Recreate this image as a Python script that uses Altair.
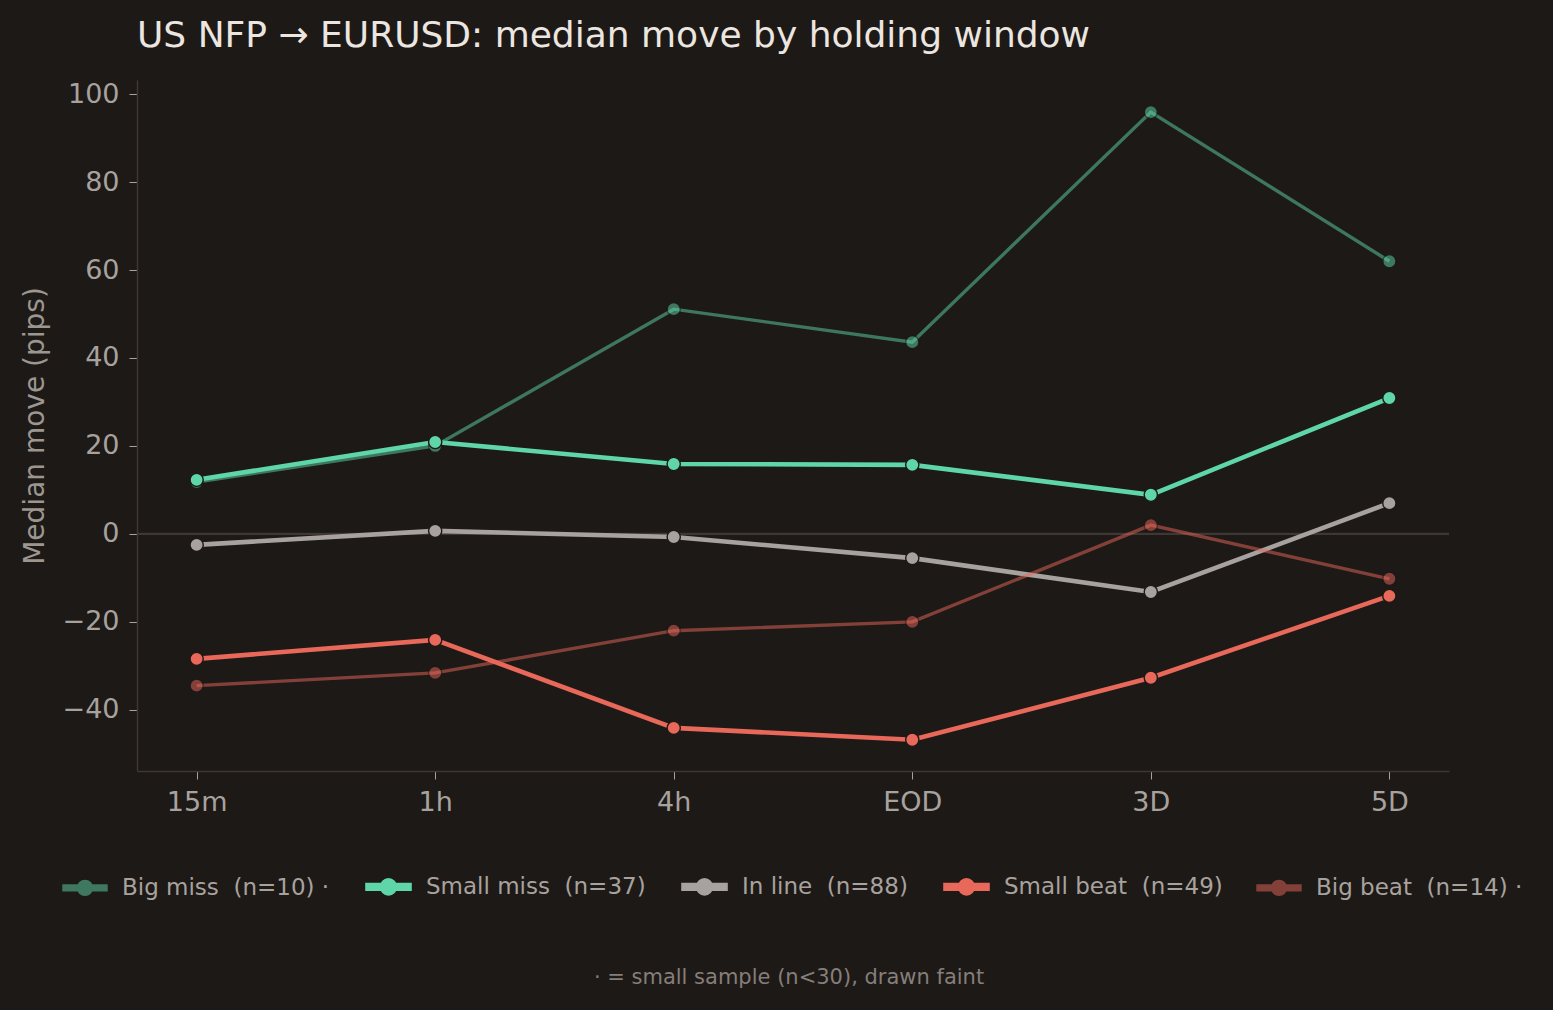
import altair as alt
import pandas as pd

# ---- data ----
windows = ["15m", "1h", "4h", "EOD", "3D", "5D"]
group_names = [
    "Big miss\u00a0 (n=10) ·",
    "Small miss\u00a0 (n=37)",
    "In line\u00a0 (n=88)",
    "Small beat\u00a0 (n=49)",
    "Big beat\u00a0 (n=14) ·",
]
big_miss = [11.8, 20.0, 51.1, 43.6, 95.9, 62.0]
small_miss = [12.3, 20.9, 15.9, 15.7, 8.9, 30.9]
in_line = [-2.5, 0.7, -0.7, -5.5, -13.2, 7.0]
small_beat = [-28.4, -24.1, -44.1, -46.8, -32.7, -14.1]
big_beat = [-34.5, -31.6, -22.0, -20.0, 2.0, -10.2]
y_ticks = [-40, -20, 0, 20, 40, 60, 80, 100]

# ---- styling ----
colors = ["#5fd6a8", "#5fd6a8", "#a8a29e", "#e8685a", "#e8685a"]
opacities = [0.5, 1.0, 1.0, 1.0, 0.5]
widths = [3.4, 4.6, 4.6, 4.6, 3.4]
BG = "#1d1917"
TXT = "#a8a29e"
AXIS = "#3e3734"
FONT = "DejaVu Sans"

series = [big_miss, small_miss, in_line, small_beat, big_beat]
rows = []
for g, vals in zip(group_names, series):
    for w, v in zip(windows, vals):
        rows.append({"window": w, "group": g, "value": v})
df = pd.DataFrame(rows)

title = "US NFP → EURUSD: median move by holding window"
note = "· = small sample (n<30), drawn faint"

sym = ("M-1,-0.09 L1,-0.09 L1,0.09 L-1,0.09 Z "
       "M-0.31,0 A0.31,0.31 0 1,1 0.31,0 A0.31,0.31 0 1,1 -0.31,0 Z")

legend = alt.Legend(
    orient="none", legendX=-75, legendY=783, direction="horizontal",
    title=None, symbolType=sym, symbolSize=1764, symbolStrokeWidth=0,
    labelFontSize=23, labelColor=TXT, labelFont=FONT, labelLimit=500,
    columnPadding=28, labelOffset=14,
)

x_enc = alt.X("window:N", sort=windows,
              scale=alt.Scale(type="point", padding=0.25),
              axis=alt.Axis(title=None, labelAngle=0, labelFontSize=27,
                            labelColor=TXT, labelPadding=10, tickSize=8,
                            tickColor=TXT, domainColor=AXIS, domainWidth=1.5,
                            grid=False, labelFont=FONT))
y_enc = alt.Y("value:Q",
              scale=alt.Scale(domain=[-53.9, 103.2], nice=False, zero=False),
              axis=alt.Axis(title="Median move (pips)", values=y_ticks,
                            labelFontSize=27, labelColor=TXT, labelPadding=10,
                            tickSize=8, tickColor=TXT, domainColor=AXIS,
                            domainWidth=1.5, grid=False, titleFontSize=28,
                            titleColor="#9c9691", titleFontWeight="normal",
                            titlePadding=13, labelFont=FONT, titleFont=FONT))
color_enc = alt.Color("group:N",
                      scale=alt.Scale(type="ordinal", domain=group_names, range=colors),
                      legend=legend)
opac_enc = alt.Opacity("group:N",
                       scale=alt.Scale(type="ordinal", domain=group_names, range=opacities),
                       legend=legend)

zero = alt.Chart(pd.DataFrame({"y": [0]})).mark_rule(
    color=AXIS, strokeWidth=2.2).encode(y="y:Q")

lines = alt.Chart(df).mark_line().encode(
    x=x_enc, y=y_enc, color=color_enc, opacity=opac_enc,
    strokeWidth=alt.StrokeWidth("group:N",
                                scale=alt.Scale(type="ordinal", domain=group_names,
                                                range=widths),
                                legend=None),
    detail="group:N",
)

points = alt.Chart(df).mark_point(filled=True, size=175, stroke=BG,
                                  strokeWidth=1.4).encode(
    x=x_enc, y=y_enc, color=color_enc, opacity=opac_enc,
)

footnote = alt.Chart(pd.DataFrame({"t": [note]})).mark_text(
    fontSize=21, color="#857e79", font=FONT, align="center",
    baseline="middle").encode(text="t:N", x=alt.value(652), y=alt.value(898))

chart = alt.layer(zero, lines, points, footnote).properties(
    width=1312, height=691,
    title=alt.Title(title, anchor="start", frame="group", fontSize=36,
                    color="#ece6e0", font=FONT, fontWeight="normal", offset=25),
    background=BG,
    padding={"left": 137, "top": 80, "right": 104, "bottom": 239},
    autosize=alt.AutoSizeParams(type="none"),
).configure_view(stroke=None).resolve_scale(color="shared", opacity="shared")

chart.save("out.html", embed_options={"renderer": "svg", "actions": False})
